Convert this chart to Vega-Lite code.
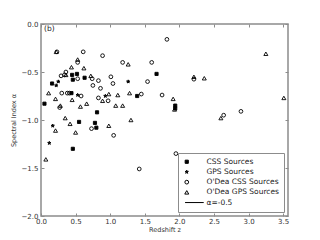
{
  "$schema": "https://vega.github.io/schema/vega-lite/v6.json",
  "autosize": {"type": "none"},
  "padding": {"left": 41, "top": 24, "right": 32, "bottom": 24},
  "width": 247,
  "height": 192,
  "title": {"text": "(b)", "anchor": "start", "frame": "group", "orient": "top", "offset": -12, "dx": 3, "fontSize": 7.5, "fontWeight": "normal", "font": "DejaVu Sans", "color": "#222"},
  "config": {
    "view": {"stroke": "#8c8c8c", "strokeWidth": 1.5},
    "font": "DejaVu Sans",
    "axis": {"domain": false, "grid": false, "tickColor": "#8c8c8c", "tickSize": -3, "tickWidth": 1, "labelFontSize": 7, "labelColor": "#333", "titleFontSize": 6.5, "titleFontWeight": "normal", "titleColor": "#333", "labelFont": "DejaVu Sans", "titleFont": "DejaVu Sans"}
  },
  "datasets": {
    "pts": [
      {"z": 0.05, "a": -0.83, "t": "CSS Sources"},
      {"z": 0.16, "a": -0.62, "t": "CSS Sources"},
      {"z": 0.45, "a": -0.53, "t": "CSS Sources"},
      {"z": 0.46, "a": -0.58, "t": "CSS Sources"},
      {"z": 0.44, "a": -0.72, "t": "CSS Sources"},
      {"z": 0.52, "a": -0.52, "t": "CSS Sources"},
      {"z": 0.63, "a": -0.56, "t": "CSS Sources"},
      {"z": 0.55, "a": -1.02, "t": "CSS Sources"},
      {"z": 0.46, "a": -1.3, "t": "CSS Sources"},
      {"z": 0.81, "a": -0.92, "t": "CSS Sources"},
      {"z": 0.8, "a": -1.08, "t": "CSS Sources"},
      {"z": 0.78, "a": -1.03, "t": "CSS Sources"},
      {"z": 1.67, "a": -0.52, "t": "CSS Sources"},
      {"z": 1.39, "a": -0.75, "t": "CSS Sources"},
      {"z": 1.94, "a": -0.85, "t": "CSS Sources"},
      {"z": 1.94, "a": -0.88, "t": "CSS Sources"},
      {"z": 0.22, "a": -0.64, "t": "GPS Sources"},
      {"z": 0.25, "a": -0.6, "t": "GPS Sources"},
      {"z": 0.17, "a": -1.06, "t": "GPS Sources"},
      {"z": 0.12, "a": -1.24, "t": "GPS Sources"},
      {"z": 0.53, "a": -0.74, "t": "GPS Sources"},
      {"z": 0.93, "a": -0.75, "t": "GPS Sources"},
      {"z": 1.26, "a": -0.6, "t": "GPS Sources"},
      {"z": 0.23, "a": -0.29, "t": "O'Dea CSS Sources"},
      {"z": 0.61, "a": -0.29, "t": "O'Dea CSS Sources"},
      {"z": 0.89, "a": -0.33, "t": "O'Dea CSS Sources"},
      {"z": 1.82, "a": -0.16, "t": "O'Dea CSS Sources"},
      {"z": 0.53, "a": -0.4, "t": "O'Dea CSS Sources"},
      {"z": 1.18, "a": -0.4, "t": "O'Dea CSS Sources"},
      {"z": 1.6, "a": -0.4, "t": "O'Dea CSS Sources"},
      {"z": 0.36, "a": -0.5, "t": "O'Dea CSS Sources"},
      {"z": 0.29, "a": -0.54, "t": "O'Dea CSS Sources"},
      {"z": 0.34, "a": -0.53, "t": "O'Dea CSS Sources"},
      {"z": 0.53, "a": -0.57, "t": "O'Dea CSS Sources"},
      {"z": 0.58, "a": -0.75, "t": "O'Dea CSS Sources"},
      {"z": 0.74, "a": -0.57, "t": "O'Dea CSS Sources"},
      {"z": 0.83, "a": -0.59, "t": "O'Dea CSS Sources"},
      {"z": 1.01, "a": -0.55, "t": "O'Dea CSS Sources"},
      {"z": 1.04, "a": -0.62, "t": "O'Dea CSS Sources"},
      {"z": 0.75, "a": -0.64, "t": "O'Dea CSS Sources"},
      {"z": 0.86, "a": -0.67, "t": "O'Dea CSS Sources"},
      {"z": 0.83, "a": -0.77, "t": "O'Dea CSS Sources"},
      {"z": 0.97, "a": -0.8, "t": "O'Dea CSS Sources"},
      {"z": 0.3, "a": -0.72, "t": "O'Dea CSS Sources"},
      {"z": 0.38, "a": -0.72, "t": "O'Dea CSS Sources"},
      {"z": 0.41, "a": -0.72, "t": "O'Dea CSS Sources"},
      {"z": 0.27, "a": -0.87, "t": "O'Dea CSS Sources"},
      {"z": 0.73, "a": -1.09, "t": "O'Dea CSS Sources"},
      {"z": 1.05, "a": -1.16, "t": "O'Dea CSS Sources"},
      {"z": 1.45, "a": -0.73, "t": "O'Dea CSS Sources"},
      {"z": 1.54, "a": -0.6, "t": "O'Dea CSS Sources"},
      {"z": 1.75, "a": -0.74, "t": "O'Dea CSS Sources"},
      {"z": 1.42, "a": -1.51, "t": "O'Dea CSS Sources"},
      {"z": 1.95, "a": -1.35, "t": "O'Dea CSS Sources"},
      {"z": 2.64, "a": -0.95, "t": "O'Dea CSS Sources"},
      {"z": 2.89, "a": -0.91, "t": "O'Dea CSS Sources"},
      {"z": 2.21, "a": -0.575, "t": "O'Dea CSS Sources"},
      {"z": 0.22, "a": -0.29, "t": "O'Dea GPS Sources"},
      {"z": 0.44, "a": -0.45, "t": "O'Dea GPS Sources"},
      {"z": 0.53, "a": -0.37, "t": "O'Dea GPS Sources"},
      {"z": 0.62, "a": -0.46, "t": "O'Dea GPS Sources"},
      {"z": 1.26, "a": -0.42, "t": "O'Dea GPS Sources"},
      {"z": 3.25, "a": -0.31, "t": "O'Dea GPS Sources"},
      {"z": 2.21, "a": -0.55, "t": "O'Dea GPS Sources"},
      {"z": 2.36, "a": -0.565, "t": "O'Dea GPS Sources"},
      {"z": 0.11, "a": -0.72, "t": "O'Dea GPS Sources"},
      {"z": 0.21, "a": -0.78, "t": "O'Dea GPS Sources"},
      {"z": 0.45, "a": -0.79, "t": "O'Dea GPS Sources"},
      {"z": 0.57, "a": -0.86, "t": "O'Dea GPS Sources"},
      {"z": 0.66, "a": -0.83, "t": "O'Dea GPS Sources"},
      {"z": 0.72, "a": -0.54, "t": "O'Dea GPS Sources"},
      {"z": 0.89, "a": -0.8, "t": "O'Dea GPS Sources"},
      {"z": 0.98, "a": -0.73, "t": "O'Dea GPS Sources"},
      {"z": 1.11, "a": -0.74, "t": "O'Dea GPS Sources"},
      {"z": 1.08, "a": -0.85, "t": "O'Dea GPS Sources"},
      {"z": 1.18, "a": -0.85, "t": "O'Dea GPS Sources"},
      {"z": 1.28, "a": -0.72, "t": "O'Dea GPS Sources"},
      {"z": 1.3, "a": -1.0, "t": "O'Dea GPS Sources"},
      {"z": 0.98, "a": -1.06, "t": "O'Dea GPS Sources"},
      {"z": 0.35, "a": -0.98, "t": "O'Dea GPS Sources"},
      {"z": 0.42, "a": -1.04, "t": "O'Dea GPS Sources"},
      {"z": 0.5, "a": -1.13, "t": "O'Dea GPS Sources"},
      {"z": 0.21, "a": -1.11, "t": "O'Dea GPS Sources"},
      {"z": 0.07, "a": -1.41, "t": "O'Dea GPS Sources"},
      {"z": 1.91, "a": -0.78, "t": "O'Dea GPS Sources"},
      {"z": 1.93, "a": -0.89, "t": "O'Dea GPS Sources"},
      {"z": 2.6, "a": -0.98, "t": "O'Dea GPS Sources"},
      {"z": 3.51, "a": -0.77, "t": "O'Dea GPS Sources"},
      {"z": 0.36, "a": -0.53, "t": "O'Dea GPS Sources"},
      {"z": 0.28, "a": -0.85, "t": "O'Dea GPS Sources"}
    ]
  },
  "layer": [
    {
      "data": {"name": "pts"},
      "mark": {"type": "point", "stroke": "black", "strokeWidth": 0.9, "opacity": 1},
      "encoding": {
        "x": {"field": "z", "type": "quantitative", "scale": {"domain": [0, 3.57], "nice": false, "zero": false}, "axis": {"orient": "bottom", "values": [0, 0.5, 1, 1.5, 2, 2.5, 3, 3.5], "format": ".1f", "title": "Redshift z", "labelPadding": 4, "titlePadding": 2, "labelOverlap": false, "labelFlush": false, "labelBound": false}},
        "y": {"field": "a", "type": "quantitative", "scale": {"domain": [-2, 0], "nice": false, "zero": false}, "axis": {"orient": "left", "values": [0, -0.5, -1, -1.5, -2], "format": ".1f", "title": "Spectral Index α", "labelPadding": 6, "titlePadding": 5, "labelOverlap": false, "labelFlush": false}},
        "shape": {"field": "t", "type": "nominal", "scale": {"domain": ["CSS Sources", "GPS Sources", "O'Dea CSS Sources", "O'Dea GPS Sources", "α=-0.5"], "range": ["square", "M0,-1L0.2245,-0.309L0.951,-0.309L0.363,0.118L0.588,0.809L0,0.382L-0.588,0.809L-0.363,0.118L-0.951,-0.309L-0.2245,-0.309Z", "circle", "triangle-up", "M-0.8,0L8,0"]},
          "legend": {"title": null, "orient": "bottom-right", "offset": 4, "padding": 5, "strokeColor": "#8c8c8c", "fillColor": "white", "labelFontSize": 7.5, "labelColor": "#222", "labelFont": "DejaVu Sans", "labelOffset": 16, "rowPadding": 1.2, "symbolStrokeColor": "black", "symbolStrokeWidth": 1, "labelLimit": 200}},
        "fill": {"field": "t", "type": "nominal", "scale": {"domain": ["CSS Sources", "GPS Sources", "O'Dea CSS Sources", "O'Dea GPS Sources", "α=-0.5"], "range": ["black", "black", "transparent", "transparent", "transparent"]}, "legend": {"title": null}},
        "size": {"field": "t", "type": "nominal", "scale": {"domain": ["CSS Sources", "GPS Sources", "O'Dea CSS Sources", "O'Dea GPS Sources", "α=-0.5"], "range": [10, 18, 12, 12, 4]}, "legend": {"title": null}}
      }
    },
    {
      "mark": {"type": "rule", "color": "#8c8c8c", "strokeWidth": 1.5},
      "encoding": {
        "x": {"datum": 0, "type": "quantitative", "scale": {"domain": [0, 3.57], "nice": false, "zero": false}, "axis": {"orient": "top", "values": [0, 0.5, 1, 1.5, 2, 2.5, 3, 3.5], "labels": false, "title": null}},
        "x2": {"datum": 3.57},
        "y": {"datum": -0.5, "type": "quantitative", "scale": {"domain": [-2, 0], "nice": false, "zero": false}, "axis": {"orient": "right", "values": [0, -0.5, -1, -1.5, -2], "labels": false, "title": null}}
      }
    }
  ],
  "resolve": {"scale": {"x": "independent", "y": "independent"}, "axis": {"x": "independent", "y": "independent"}}
}
